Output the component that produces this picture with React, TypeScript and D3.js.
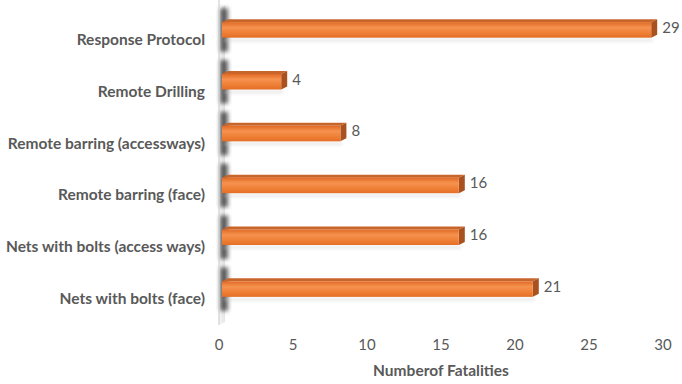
import React from "react";
import * as d3 from "d3";

const categories = [
  "Response Protocol",
  "Remote Drilling",
  "Remote barring (accessways)",
  "Remote barring (face)",
  "Nets with bolts (access ways)",
  "Nets with bolts (face)",
];
const fatalities = [29, 4, 8, 16, 16, 21];
const tickValues = [0, 5, 10, 15, 20, 25, 30];
const axisTitle = "Numberof Fatalities";

const W = 682;
const H = 384;
const FONT = "Lato, 'Open Sans', sans-serif";
const TEXT = "#595959";
// 3D depth offsets of the bars and back wall
const DX = 6;
const DY = 3;
// category labels sit on the front plane, below the receding bars
const LABEL_DROP = 11;

export default function App() {
  const x = d3.scaleLinear().domain([0, 30]).range([219, 663]);
  const y = d3
    .scaleBand<string>()
    .domain(categories)
    .range([4, 315])
    .paddingInner(0.7)
    .paddingOuter(0.35);
  const bh = y.bandwidth();
  const wallTop = 5;
  const wallBottom = 325;

  return (
    <svg width={W} height={H} style={{ position: "absolute", left: 0, top: 0 }}>
      <defs>
        <linearGradient id="front" x1="0" y1="0" x2="0" y2="1">
          <stop offset="0%" stopColor="#E06A24" />
          <stop offset="35%" stopColor="#F6924F" />
          <stop offset="70%" stopColor="#EF7F35" />
          <stop offset="100%" stopColor="#E36E27" />
        </linearGradient>
        <linearGradient id="wall" x1="0" y1="0" x2="1" y2="0">
          <stop offset="0%" stopColor="#f4f4f4" />
          <stop offset="100%" stopColor="#d9d9d9" />
        </linearGradient>
        <filter id="blur" x="-50%" y="-50%" width="200%" height="200%">
          <feGaussianBlur stdDeviation="2" />
        </filter>
        <filter id="soft" x="-20%" y="-50%" width="140%" height="200%">
          <feGaussianBlur stdDeviation="1.5" />
        </filter>
      </defs>

      {/* back wall */}
      <polygon
        points={`${x(0)},${wallTop + DY + 4} ${x(0) + DX},${wallTop} ${x(0) + DX},${wallBottom - DY} ${x(0)},${wallBottom}`}
        fill="url(#wall)"
        opacity={0.7}
      />
      {categories.map((c, i) => {
        const y0 = y(c)!;
        return (
          <rect
            key={`ws${i}`}
            x={x(0) + 1}
            y={y0 - 14}
            width={DX + 2}
            height={bh + 28}
            fill="#444"
            opacity={0.85}
            filter="url(#blur)"
          />
        );
      })}
      <line x1={x(0)} x2={x(0)} y1={0} y2={wallBottom} stroke="#d0d0d0" strokeWidth={1.2} />

      {/* bars */}
      {categories.map((c, i) => {
        const v = fatalities[i];
        const y0 = y(c)!;
        const x0 = x(0) + 3;
        const x1 = x(v) + 3;
        return (
          <g key={c}>
            <rect x={x0 + 2} y={y0 + bh + 1} width={x1 - x0} height={3} fill="#ccc" opacity={0.4} filter="url(#soft)" />
            <polygon
              points={`${x0},${y0} ${x0 + DX},${y0 - DY} ${x1 + DX},${y0 - DY} ${x1},${y0}`}
              fill="#C8652B"
            />
            <polygon
              points={`${x1},${y0} ${x1 + DX},${y0 - DY} ${x1 + DX},${y0 + bh - DY} ${x1},${y0 + bh}`}
              fill="#A9511F"
            />
            <rect x={x0} y={y0} width={x1 - x0} height={bh} fill="url(#front)" />
            <text
              x={x1 + DX + 5}
              y={y0 + bh / 2 - 1}
              dominantBaseline="middle"
              fontFamily={FONT}
              fontSize={15}
              fill={TEXT}
            >
              {v}
            </text>
          </g>
        );
      })}

      {/* category labels */}
      {categories.map((c) => (
        <text
          key={`l${c}`}
          x={205}
          y={y(c)! + bh / 2 + LABEL_DROP}
          textAnchor="end"
          dominantBaseline="middle"
          fontFamily={FONT}
          fontWeight="bold"
          fontSize={15.5}
          fill={TEXT}
        >
          {c}
        </text>
      ))}

      {/* value axis */}
      {tickValues.map((t) => (
        <text
          key={`t${t}`}
          x={x(t)}
          y={346}
          textAnchor="middle"
          dominantBaseline="middle"
          fontFamily={FONT}
          fontSize={15}
          fill={TEXT}
        >
          {t}
        </text>
      ))}
      <text
        x={441}
        y={372}
        textAnchor="middle"
        dominantBaseline="middle"
        fontFamily={FONT}
        fontWeight="bold"
        fontSize={15.5}
        fill={TEXT}
      >
        {axisTitle}
      </text>
    </svg>
  );
}
